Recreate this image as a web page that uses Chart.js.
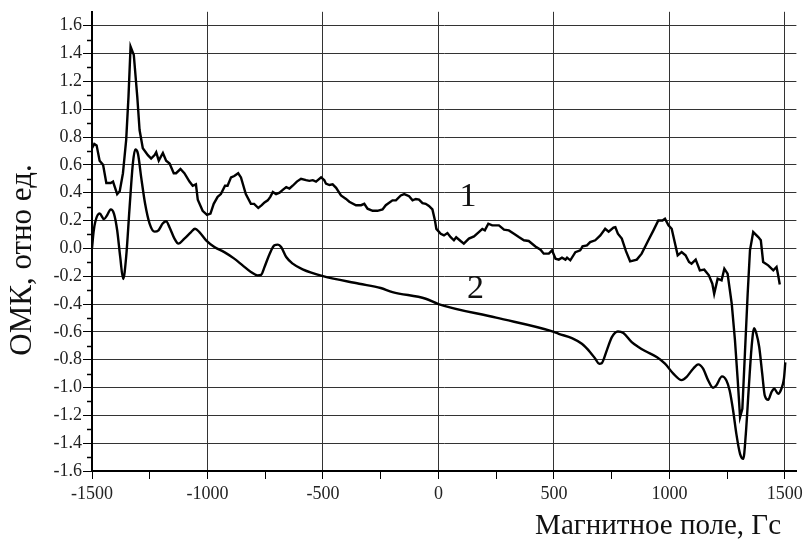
<html>
<head>
<meta charset="utf-8">
<title>ОМК</title>
<script src="https://cdn.jsdelivr.net/npm/chart.js"></script>
<style>
  body { margin: 0; background: #fff; }
  #wrap { width: 807px; height: 539px; }
</style>
</head>
<body>
<div id="wrap"><canvas id="graph"></canvas></div>
<script>
// curve 1 (upper, noisy)
var field1 = [-1500,-1490,-1480,-1467,-1452,-1438,-1419,-1409,-1391,-1380,-1366,-1352,-1342,-1333,-1319,-1304,-1294,-1280,-1258,-1244,-1229,-1222,-1211,-1193,-1179,-1164,-1146,-1136,-1117,-1100,-1078,-1064,-1050,-1042,-1021,-1002,-987,-973,-956,-942,-924,-913,-898,-884,-867,-855,-834,-812,-798,-780,-765,-753,-739,-728,-717,-703,-688,-674,-659,-645,-631,-613,-595,-573,-559,-544,-530,-508,-494,-487,-472,-458,-443,-422,-400,-386,-357,-335,-321,-307,-285,-264,-242,-228,-199,-184,-163,-148,-127,-112,-98,-84,-69,-55,-41,-26,-15,-9,10,24,39,53,67,77,96,110,132,154,175,190,201,216,233,262,284,305,327,348,370,391,420,442,456,478,492,507,521,535,550,557,571,593,614,624,643,657,679,701,722,737,758,766,777,794,812,830,859,880,909,931,952,970,981,996,1010,1036,1053,1070,1085,1096,1114,1132,1151,1171,1186,1194,1209,1226,1238,1252,1270,1284,1296,1306,1316,1327,1339,1349,1363,1385,1396,1406,1428,1450,1464,1471,1478]
var omk1 = [0.72,0.75,0.74,0.63,0.60,0.47,0.47,0.48,0.39,0.41,0.54,0.78,1.09,1.45,1.39,1.09,0.85,0.72,0.67,0.645,0.67,0.69,0.63,0.685,0.63,0.61,0.54,0.54,0.57,0.54,0.48,0.45,0.46,0.35,0.27,0.24,0.25,0.32,0.37,0.39,0.45,0.45,0.51,0.52,0.54,0.51,0.39,0.32,0.32,0.29,0.31,0.33,0.345,0.37,0.405,0.39,0.40,0.42,0.44,0.43,0.45,0.48,0.50,0.49,0.485,0.49,0.48,0.51,0.49,0.465,0.455,0.46,0.435,0.38,0.355,0.335,0.31,0.31,0.32,0.285,0.27,0.27,0.28,0.31,0.345,0.345,0.38,0.39,0.375,0.345,0.355,0.35,0.325,0.32,0.305,0.28,0.2,0.14,0.105,0.093,0.11,0.08,0.058,0.08,0.053,0.034,0.07,0.086,0.117,0.14,0.13,0.177,0.165,0.165,0.134,0.129,0.105,0.081,0.058,0.053,0.014,-0.01,-0.038,-0.038,-0.014,-0.074,-0.081,-0.067,-0.081,-0.067,-0.086,-0.027,-0.014,0.014,0.022,0.045,0.058,0.093,0.141,0.12,0.15,0.153,0.105,0.07,-0.02,-0.093,-0.081,-0.038,0.058,0.129,0.2,0.2,0.213,0.165,0.141,-0.05,-0.027,-0.05,-0.098,-0.11,-0.081,-0.158,-0.153,-0.194,-0.254,-0.326,-0.218,-0.23,-0.146,-0.182,-0.398,-0.661,-0.949,-1.213,-1.153,-0.757,-0.326,-0.014,0.117,0.081,0.058,-0.098,-0.122,-0.158,-0.134,-0.194,-0.26]

// curve 2 (lower, smooth)
var field2 = [-1500,-1493,-1486,-1467,-1448,-1434,-1419,-1405,-1391,-1378,-1365,-1352,-1337,-1323,-1313,-1301,-1287,-1270,-1251,-1229,-1212,-1193,-1179,-1164,-1143,-1126,-1100,-1071,-1054,-1035,-1006,-970,-927,-884,-848,-812,-783,-768,-753,-731,-710,-695,-681,-659,-631,-588,-500,-343,-250,-199,-55,0,250,500,521,578,621,657,679,696,707,729,751,777,801,837,866,895,945,981,1017,1053,1074,1103,1125,1146,1168,1189,1203,1228,1247,1261,1276,1290,1306,1320,1331,1344,1356,1367,1377,1389,1402,1413,1428,1442,1454,1471,1485,1496,1502]
var omk2 = [0.0,0.12,0.19,0.25,0.21,0.24,0.28,0.25,0.13,-0.06,-0.22,-0.06,0.30,0.61,0.71,0.68,0.51,0.32,0.18,0.12,0.13,0.18,0.195,0.15,0.07,0.034,0.07,0.117,0.141,0.117,0.058,0.01,-0.027,-0.074,-0.122,-0.17,-0.194,-0.19,-0.134,-0.04,0.022,0.027,0.01,-0.062,-0.11,-0.151,-0.2,-0.254,-0.285,-0.314,-0.362,-0.4,-0.498,-0.6,-0.614,-0.645,-0.686,-0.746,-0.793,-0.829,-0.825,-0.733,-0.638,-0.597,-0.609,-0.674,-0.709,-0.738,-0.781,-0.829,-0.9,-0.947,-0.925,-0.865,-0.834,-0.865,-0.949,-1.002,-0.985,-0.92,-0.949,-1.021,-1.165,-1.333,-1.477,-1.513,-1.333,-0.997,-0.709,-0.573,-0.614,-0.709,-0.9,-1.057,-1.088,-1.033,-1.009,-1.045,-1.009,-0.937,-0.82]

var xTicks = [-1500,-1250,-1000,-750,-500,-250,0,250,500,750,1000,1250,1500]
var yTicks = []
for (var i = -16; i <= 16; i++) yTicks.push(i / 10)

// curve labels: [text, x, y]
var curveLabels = [["1", 128, 0.367], ["2", 160, -0.295]]

var xTitle = "Магнитное поле, Гс"
var yTitle = "ОМК, отно ед."

function pts(xs, ys) {
    var out = []
    for (var i = 0; i < xs.length; i++) out.push({x: xs[i], y: ys[i]})
    return out
}

const serif = '"Liberation Serif", "Times New Roman", serif'

const extras = {
    id: 'extras',
    afterDraw(chart) {
        const ctx = chart.ctx
        const xs = chart.scales.x, ys = chart.scales.y
        ctx.save()
        // minor y ticks
        ctx.strokeStyle = '#000'
        ctx.lineWidth = 1.5
        yTicks.forEach((v, i) => {
            if (i % 2 === 1) {
                const py = Math.round(ys.getPixelForValue(v)) + 0.5
                ctx.beginPath()
                ctx.moveTo(xs.left - 5, py)
                ctx.lineTo(xs.left, py)
                ctx.stroke()
            }
        })
        // curve numbers
        ctx.fillStyle = '#111'
        ctx.font = '34px ' + serif
        ctx.textAlign = 'center'
        ctx.textBaseline = 'middle'
        curveLabels.forEach(l => {
            ctx.fillText(l[0], xs.getPixelForValue(l[1]), ys.getPixelForValue(l[2]))
        })
        // axis titles
        ctx.font = '29px ' + serif
        ctx.textAlign = 'right'
        ctx.textBaseline = 'alphabetic'
        ctx.fillText(xTitle, 781, 534)
        ctx.font = '31px ' + serif
        ctx.translate(31, 260)
        ctx.rotate(-Math.PI / 2)
        ctx.textAlign = 'center'
        ctx.fillText(yTitle, 0, 0)
        ctx.restore()
    }
}

new Chart(document.getElementById("graph"), {
    type: 'line',
    data: {
        datasets: [
            {
                label: '1',
                data: pts(field1, omk1),
                borderColor: '#000',
                borderWidth: 2.4,
                pointRadius: 0,
                tension: 0
            },
            {
                label: '2',
                data: pts(field2, omk2),
                borderColor: '#000',
                borderWidth: 2.4,
                pointRadius: 0,
                cubicInterpolationMode: 'monotone'
            }
        ]
    },
    options: {
        responsive: true,
        maintainAspectRatio: false,
        animation: false,
        layout: { padding: { top: 11, right: 9, left: 0, bottom: 0 } },
        plugins: {
            legend: { display: false },
            tooltip: { enabled: false }
        },
        scales: {
            x: {
                type: 'linear',
                min: -1500,
                max: 1550,
                afterBuildTicks: s => { s.ticks = xTicks.map(v => ({value: v})) },
                afterFit: s => { s.height = 68 },
                border: { color: '#000', width: 2 },
                grid: {
                    color: c => (c.tick && c.tick.value % 500 === 0) ? '#333' : 'rgba(0,0,0,0)',
                    tickColor: '#000',
                    tickLength: 8,
                    lineWidth: 1
                },
                ticks: {
                    color: '#222',
                    padding: 4,
                    maxRotation: 0,
                    autoSkip: false,
                    font: { family: serif, size: 18 },
                    callback: v => (v % 500 === 0) ? String(v) : ''
                }
            },
            y: {
                type: 'linear',
                min: -1.6,
                max: 1.7,
                afterBuildTicks: s => { s.ticks = yTicks.map(v => ({value: v})) },
                afterFit: s => { s.width = 92 },
                border: { color: '#000', width: 2 },
                grid: {
                    color: c => (c.index % 2 === 0) ? '#333' : 'rgba(0,0,0,0)',
                    tickColor: c => (c.index % 2 === 0) ? '#000' : 'rgba(0,0,0,0)',
                    tickLength: 9,
                    lineWidth: 1
                },
                ticks: {
                    color: '#222',
                    padding: 1,
                    autoSkip: false,
                    font: { family: serif, size: 18 },
                    callback: (v, i) => (i % 2 === 0) ? v.toFixed(1) : ''
                }
            }
        }
    },
    plugins: [extras]
})
</script>
</body>
</html>
